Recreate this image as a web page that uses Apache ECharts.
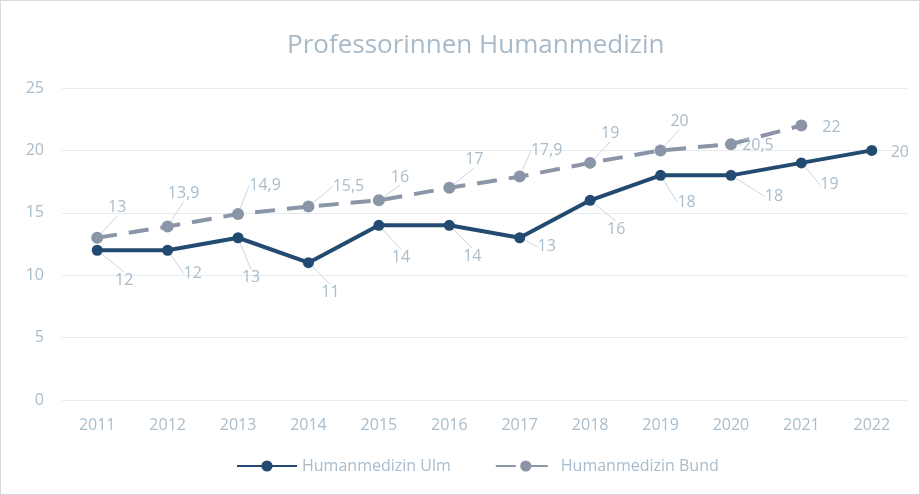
<!DOCTYPE html>
<html><head><meta charset="utf-8">
<script src="https://cdn.jsdelivr.net/npm/echarts@6/dist/echarts.min.js"></script>
<style>html,body{margin:0;padding:0;background:#fff}#c{width:918px;height:493px;border:1px solid #d9d9d9}</style>
</head><body><div id="c"></div>
<script>
var years = ['2011','2012','2013','2014','2015','2016','2017','2018','2019','2020','2021','2022'];
var ulm = [12,12,13,11,14,14,13,16,18,18,19,20];
var bund = [13,13.9,14.9,15.5,16,17,17.9,19,20,20.5,22];
var yTicks = [0,5,10,15,20,25];
var ulmOff = [[27,30],[25,23],[13,40],[22,30],[22,32],[23,31],[27,9],[26,29],[26,27],[43,21],[28,22],[28,2]];
var bundOff = [[20,-30],[16,-33],[27,-29],[40,-20],[21,-23],[25,-28],[27,-26],[20,-29],[19,-29],[27,1],[30,2]];
var ulmNoLine = [11];
var bundNoLine = [10];
var FONT = 'Open Sans';
var labelColor = '#a9bccb';
var chart = echarts.init(document.getElementById('c'));
function fmt(p){ return String(p.value).replace('.', ','); }
function build(vals, noLine){
  return vals.map(function(v,i){
    return noLine.indexOf(i) >= 0 ? {value:v, labelLine:{show:false}} : v;
  });
}
chart.setOption({
  animation:false,
  title:{text:'Professorinnen Humanmedizin', left:281, top:27,
    textStyle:{fontFamily:FONT, fontSize:26, fontWeight:'normal', color:'#a8bac8'}},
  grid:{left:61, right:12, top:87, bottom:94, containLabel:false},
  legend:{bottom:15, left:230, itemWidth:60, itemHeight:14, itemGap:44,
    textStyle:{fontFamily:FONT, fontSize:16, color:labelColor}},
  xAxis:{type:'category', data:years, boundaryGap:true,
    axisLine:{show:false}, axisTick:{show:false},
    axisLabel:{fontFamily:FONT, fontSize:16, color:labelColor, margin:17}},
  yAxis:{type:'value', min:yTicks[0], max:yTicks[yTicks.length-1], interval:5,
    axisLine:{show:false}, axisTick:{show:false},
    axisLabel:{fontFamily:FONT, fontSize:16, color:labelColor, margin:18},
    splitLine:{lineStyle:{color:'#e6ebef', width:1}}},
  series:[
    {name:'Humanmedizin Ulm', type:'line', data:build(ulm, ulmNoLine), symbol:'circle', symbolSize:11,
      itemStyle:{color:'#234a70'}, lineStyle:{width:4, color:'#234a70'},
      label:{show:true, position:'inside', formatter:fmt, fontFamily:FONT, fontSize:16, color:labelColor},
      labelLine:{show:true, lineStyle:{color:'#cdd6dd', width:1}},
      labelLayout:function(p){var o=ulmOff[p.dataIndex]; return {dx:o[0], dy:o[1]};},
      z:3},
    {name:'Humanmedizin Bund', type:'line', data:build(bund, bundNoLine), symbol:'circle', symbolSize:12,
      itemStyle:{color:'#8a95a7'}, lineStyle:{width:4, color:'#8a95a7', type:[20,12]},
      label:{show:true, position:'inside', formatter:fmt, fontFamily:FONT, fontSize:16, color:labelColor},
      labelLine:{show:true, lineStyle:{color:'#cdd6dd', width:1}},
      labelLayout:function(p){var o=bundOff[p.dataIndex]; return {dx:o[0], dy:o[1]};},
      z:2}
  ]
});
</script></body></html>
